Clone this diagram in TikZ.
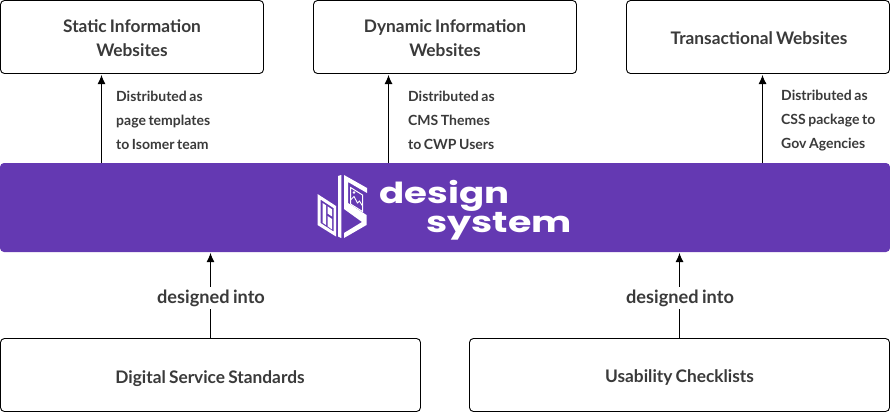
\documentclass[tikz,border=0pt]{standalone}
\usepackage{fontspec}
\setmainfont[WordSpace=0.75]{Lato}
\newfontfamily\logofont{Poppins}
\definecolor{brand}{HTML}{6439B2}
\definecolor{ink}{HTML}{3A3A3A}
\usetikzlibrary{arrows.meta}
\tikzset{
  x=1pt,y=-1pt,
  card/.style={draw=black,line width=0.9pt,rounded corners=4pt,fill=white,inner sep=0pt},
  cardtext/.style={inner sep=0pt,align=center,text=ink,font=\fontsize{17.3}{24}\selectfont\bfseries},
  band/.style={fill=brand,rounded corners=4pt,inner sep=0pt},
  flow/.style={draw=black,line width=0.9pt,-{Latex[length=9pt,width=8pt]}},
  note/.style={anchor=west,inner sep=0pt,align=left,text=ink,font=\fontsize{14}{24}\selectfont\bfseries},
  tag/.style={fill=white,inner sep=3pt,text=ink,font=\fontsize{18.2}{20}\selectfont\bfseries},
  logotext/.style={text=white,inner sep=0pt,font=\logofont\bfseries\fontsize{29}{29}\selectfont},
  logoline/.style={fill=white,draw=none}
}
\begin{document}
\begin{tikzpicture}
\useasboundingbox (0,0) rectangle (890,412);
\node[card,minimum width=263pt,minimum height=73pt] (a) at (132,37) {};
\node[card,minimum width=263pt,minimum height=73pt] (b) at (445,37) {};
\node[card,minimum width=263pt,minimum height=73pt] (c) at (758,37) {};
\node[band,minimum width=890pt,minimum height=89pt] (ds) at (445,207.5) {};
\node[card,minimum width=420pt,minimum height=73pt] (d) at (210.5,375) {};
\node[card,minimum width=420pt,minimum height=73pt] (e) at (679.5,375) {};
\node[cardtext] (at) at (132,38.5) {Static Information\\Websites};
\node[cardtext] (bt) at (445,38.5) {Dynamic Information\\Websites};
\node[cardtext] (ct) at (759,38) {Transactional Websites};
\node[cardtext] (dt) at (210,379) {Digital Service Standards};
\node[cardtext] (et) at (679.5,378) {Usability Checklists};
\coordinate (a0) at (101.5,163); \coordinate (a1) at (101.5,75);
\coordinate (b0) at (388.5,163); \coordinate (b1) at (388.5,75);
\coordinate (c0) at (762.5,163); \coordinate (c1) at (762.5,75);
\coordinate (d0) at (210.5,338); \coordinate (d1) at (210.5,253);
\coordinate (e0) at (679.5,338); \coordinate (e1) at (679.5,253);
\draw[flow] (a0) -- (a1);
\draw[flow] (b0) -- (b1);
\draw[flow] (c0) -- (c1);
\draw[flow] (d0) -- (d1);
\draw[flow] (e0) -- (e1);
\node[tag] (t1) at (211,298) {designed into};
\node[tag] (t2) at (680,298) {designed into};
\node[note] (n1) at (116,120) {Distributed as\\page templates\\to Isomer team};
\node[note] (n2) at (408,120) {Distributed as\\CMS Themes\\to CWP Users};
\node[note] (n3) at (781,120.5) {Distributed as\\CSS package to\\Gov Agencies};
% logo
\fill[logoline] (338,176) -- (341.3,175) -- (341.3,238) -- (338,236.5) -- cycle;
\fill[logoline,even odd rule] (317.5,194) -- (336,206) -- (336,236.5) -- (317.5,225) -- cycle
  (320.5,199.5) -- (333.5,208) -- (333.5,231.5) -- (320.5,223) -- cycle;
\fill[logoline] (322.5,203) -- (326,205.3) -- (326,225) -- (322.5,222.7) -- cycle
  (327.5,206.3) -- (332,209.3) -- (332,216.5) -- (327.5,213.5) -- cycle
  (327.5,216) -- (332,219) -- (332,229.5) -- (327.5,226.2) -- cycle;
\fill[logoline] (344,175) -- (367,188) -- (367,193) -- (348,182) -- (348,203) -- (366.5,215) -- (366.5,225) -- (344,238) -- (344,233) -- (362,222) -- (344,209) -- cycle;
\draw[white,line width=1pt] (350.5,187.5) -- (362.5,195) -- (362.5,211.5) -- (350.5,204) -- cycle;
\draw[white,line width=0.9pt] (350.5,200) -- (354,196.5) -- (357.5,203) -- (359.5,201) -- (362.5,206);
\fill[white] (354,192.5) circle (1.4pt);
\node[logotext,anchor=center] (l1) at (444.5,196) {\scalebox{1.28}[1]{design}};
\node[logotext,anchor=center] (l2) at (499,226) {\scalebox{1.31}[1]{system}};
\end{tikzpicture}
\end{document}
